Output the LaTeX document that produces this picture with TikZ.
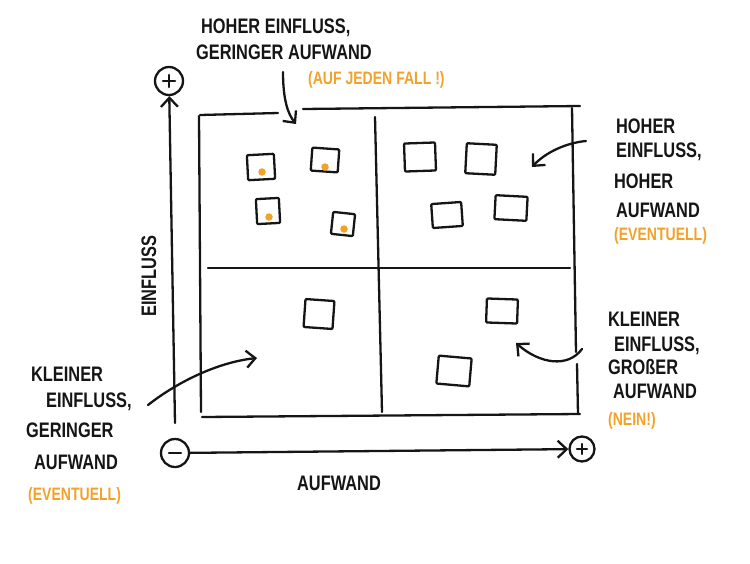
\documentclass[tikz,border=0pt]{standalone}
\usepackage{fontspec}
\setmainfont{Liberation Sans}[FakeStretch=0.78]
\usetikzlibrary{arrows.meta}
\definecolor{ink}{HTML}{151515}
\definecolor{marker}{HTML}{F2A22A}
\begin{document}
\begin{tikzpicture}[x=1pt,y=-1pt,
  line width=2.3pt, line cap=round, line join=round, draw=ink,
  hand/.style={font=\fontsize{21}{23}\selectfont\bfseries, text=ink, inner sep=0pt, anchor=base west},
  handor/.style={font=\fontsize{18}{20}\selectfont\bfseries, text=marker, inner sep=0pt, anchor=base west},
  sign/.style={circle, draw=ink, line width=2.3pt, minimum size=28pt, inner sep=0pt},
  stickynote/.style={draw=ink, line width=2.3pt, inner sep=0pt, rounded corners=1pt},
  dot/.style={circle, fill=marker, inner sep=0pt, minimum size=7.5pt},
  tip/.style={-{Straight Barb[length=9pt,width=17pt,line width=2.3pt]}}
]
\useasboundingbox (0,0) rectangle (750,563);

% ---- grid ----
\draw (200,115) -- (278,113);
\draw (303,109) -- (580,106);
\draw (199,116) -- (201,412);
\draw (375,117) -- (382,412);
\draw (572,108) -- (576,352);
\draw (577,364) -- (578,414);
\draw (208,268) -- (570,268);
\draw (202,417) -- (580,414);

% ---- axes ----
\node[sign] (plustop) at (169,81) {};
\draw ([xshift=-6pt]plustop.center) -- ([xshift=6pt]plustop.center);
\draw ([yshift=-6pt]plustop.center) -- ([yshift=6pt]plustop.center);
\node[sign, minimum size=28pt] (minus) at (175,453) {};
\draw ([xshift=-6pt]minus.center) -- ([xshift=6pt]minus.center);
\node[sign, minimum size=25pt] (plusright) at (582,449) {};
\draw ([xshift=-5pt]plusright.center) -- ([xshift=5pt]plusright.center);
\draw ([yshift=-5pt]plusright.center) -- ([yshift=5pt]plusright.center);
\coordinate (vbase) at (175,423);
\draw[tip] (vbase) -- (plustop);
\draw[tip] (minus) -- (plusright);

\node[hand, rotate=90] (yl) at (156,318) {EINFLUSS};
\node[hand] (xl) at (296,490) {AUFWAND};

% ---- sticky notes ----
\node[stickynote, minimum width=27pt, minimum height=25pt, rotate=3] (n1) at (261,167) {};
\node[dot] (d1) at (262,172) {};
\node[stickynote, minimum width=27pt, minimum height=23pt, rotate=-4] (n2) at (325,160) {};
\node[dot] (d2) at (325,167) {};
\node[stickynote, minimum width=23pt, minimum height=25pt, rotate=3] (n3) at (268,211) {};
\node[dot] (d3) at (269,217) {};
\node[stickynote, minimum width=22pt, minimum height=22pt, rotate=-6] (n4) at (343,224) {};
\node[dot] (d4) at (344,229) {};

\node[stickynote, minimum width=31pt, minimum height=28pt, rotate=2] (n5) at (420,157) {};
\node[stickynote, minimum width=30pt, minimum height=30pt, rotate=-3] (n6) at (481,159) {};
\node[stickynote, minimum width=30pt, minimum height=24pt, rotate=4] (n7) at (447,215) {};
\node[stickynote, minimum width=32pt, minimum height=24pt, rotate=-3] (n8) at (511,208) {};

\node[stickynote, minimum width=29pt, minimum height=28pt, rotate=-4] (n9) at (319,314) {};
\node[stickynote, minimum width=31pt, minimum height=24pt, rotate=-2] (n10) at (502,311) {};
\node[stickynote, minimum width=33pt, minimum height=28pt, rotate=-5] (n11) at (454,371) {};

% ---- top label ----
\node[hand] (t1) at (200,33) {HOHER EINFLUSS,};
\node[hand] (t2) at (195,59) {GERINGER AUFWAND};
\node[handor] (t3) at (307,84) {(AUF JEDEN FALL !)};
\coordinate (a1s) at (283,72);
\coordinate (a1e) at (296,124);
\draw[tip] (a1s) .. controls (283,100) and (288,114) .. (a1e);

% ---- right top label ----
\node[hand] (r1) at (615,133) {HOHER};
\node[hand] (r2) at (615,157) {EINFLUSS,};
\node[hand] (r3) at (613,188) {HOHER};
\node[hand] (r4) at (615,217) {AUFWAND};
\node[handor] (r5) at (613,240) {(EVENTUELL)};
\coordinate (a2s) at (586,141);
\coordinate (a2e) at (532,167);
\draw[tip] (a2s) .. controls (565,143) and (545,153) .. (a2e);

% ---- right bottom label ----
\node[hand] (s1) at (607,326) {KLEINER};
\node[hand] (s2) at (613,351) {EINFLUSS,};
\node[hand] (s3) at (607,374) {GROßER};
\node[hand] (s4) at (612,398) {AUFWAND};
\node[handor] (s5) at (607,425) {(NEIN!)};
\coordinate (a3s) at (582,349);
\coordinate (a3e) at (516,343);
\draw[tip] (a3s) .. controls (568,368) and (540,364) .. (a3e);

% ---- bottom left label ----
\node[hand] (b1) at (30,381) {KLEINER};
\node[hand] (b2) at (45,407) {EINFLUSS,};
\node[hand] (b3) at (25,437) {GERINGER};
\node[hand] (b4) at (33,469) {AUFWAND};
\node[handor] (b5) at (27,500) {(EVENTUELL)};
\coordinate (a4s) at (148,405);
\coordinate (a4e) at (257,358);
\draw[tip] (a4s) .. controls (180,380) and (220,362) .. (a4e);
\end{tikzpicture}
\end{document}
